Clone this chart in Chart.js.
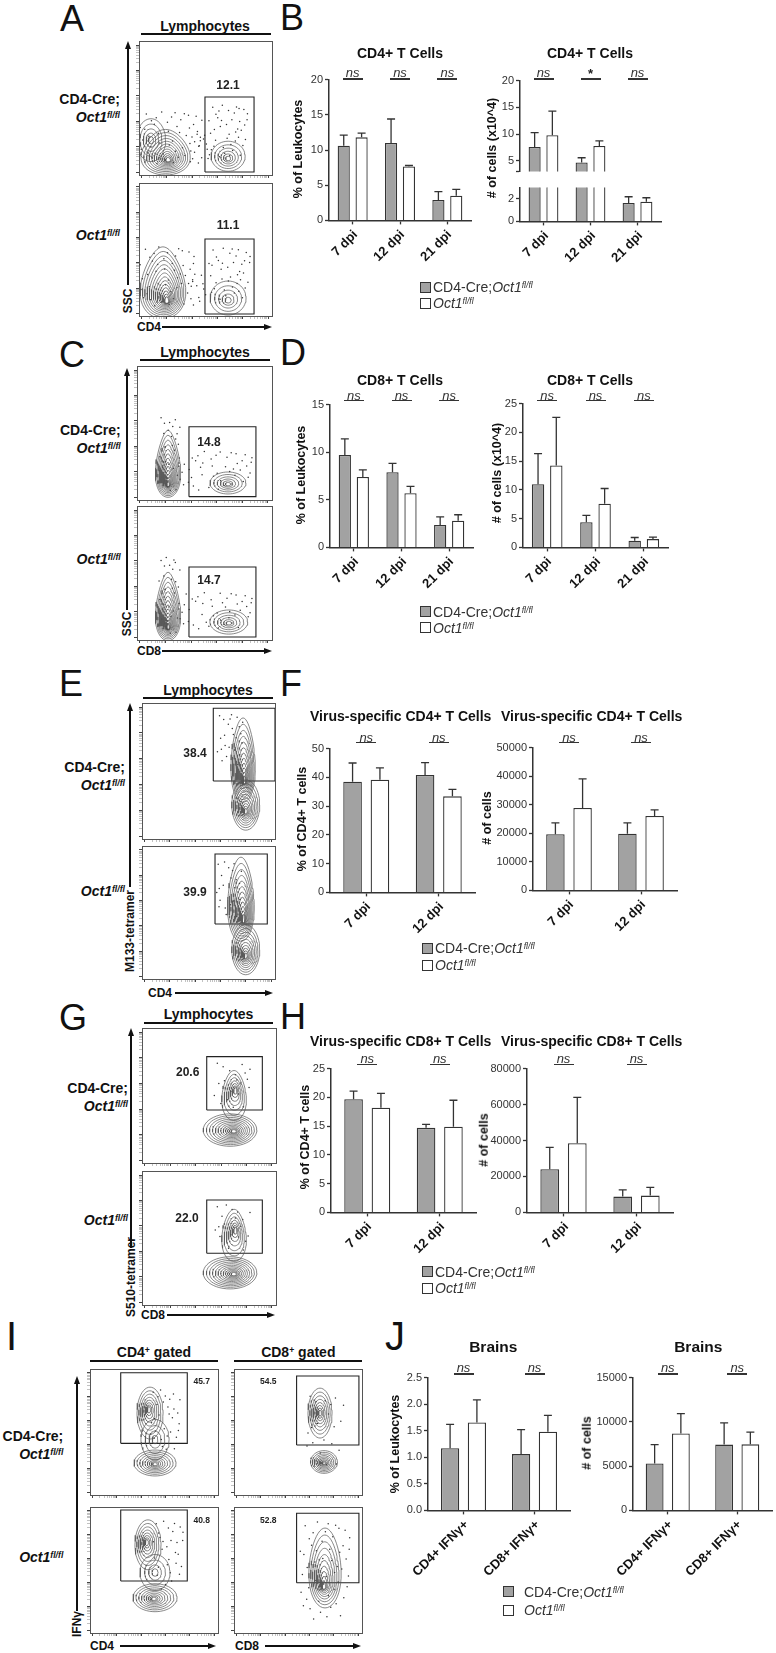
<!DOCTYPE html>
<html><head><meta charset="utf-8"><title>Oct1 T cell figure</title>
<script src="https://cdn.jsdelivr.net/npm/chart.js@4.4.1/dist/chart.umd.min.js"></script>
<style>
html,body{margin:0;padding:0;background:#fff;}
#fig{position:relative;width:776px;height:1653px;overflow:hidden;font-family:"Liberation Sans",Arial,Helvetica,sans-serif;color:#111;background:#fff;}
#fig canvas{position:absolute;}
#fig .t{position:absolute;white-space:nowrap;line-height:1;}
#fig sup{font-size:0.62em;line-height:0;vertical-align:0.5em;}
</style></head><body><div id="fig"></div>
<script>
// ================= DATA =================
const seriesNames = ['CD4-Cre;Oct1fl/fl', 'Oct1fl/fl'];
const dpi3 = ['7 dpi', '12 dpi', '21 dpi'];
const dpi2 = ['7 dpi', '12 dpi'];
const brainCats = ['CD4+ IFNγ+', 'CD8+ IFNγ+'];

const bPctKO = [10.6, 11.0, 2.9];   const bPctKOErr = [1.5, 3.4, 1.2];
const bPctWT = [11.8, 7.65, 3.5];   const bPctWTErr = [0.6, 0.15, 0.9];
const bNumKO = [7.6, 4.7, 1.63];    const bNumKOErr = [2.7, 0.9, 0.56];
const bNumWT = [9.8, 7.8, 1.75];    const bNumWTErr = [4.5, 0.95, 0.35];
const bPctSig = ['ns', 'ns', 'ns']; const bNumSig = ['ns', '*', 'ns'];
const bPctTicks = [0, 5, 10, 15, 20];
const bNumTicksUpper = [5, 10, 15, 20];
const bNumTicksLower = [0, 1, 2, 3];

const dPctKO = [9.7, 7.9, 2.35];    const dPctKOErr = [1.7, 0.93, 0.85];
const dPctWT = [7.4, 5.7, 2.8];     const dPctWTErr = [0.74, 0.7, 0.63];
const dNumKO = [11.0, 4.38, 1.15];  const dNumKOErr = [5.3, 1.2, 0.57];
const dNumWT = [14.26, 7.6, 1.44];  const dNumWTErr = [8.34, 2.64, 0.35];
const dPctSig = ['ns', 'ns', 'ns']; const dNumSig = ['ns', 'ns', 'ns'];
const dPctTicks = [0, 5, 10, 15];
const dNumTicks = [0, 5, 10, 15, 20, 25];

const fPctKO = [38.5, 40.8];        const fPctKOErr = [6.5, 4.3];
const fPctWT = [39.2, 33.4];        const fPctWTErr = [4.1, 2.4];
const fNumKO = [19650, 19860];      const fNumKOErr = [4020, 3810];
const fNumWT = [28860, 26090];      const fNumWTErr = [10190, 2080];
const fPctSig = ['ns', 'ns'];       const fNumSig = ['ns', 'ns'];
const fPctTicks = [0, 10, 20, 30, 40, 50];
const fNumTicks = [0, 10000, 20000, 30000, 40000, 50000];

const hPctKO = [19.66, 14.7];       const hPctKOErr = [1.44, 0.6];
const hPctWT = [18.2, 14.9];        const hPctWTErr = [2.5, 4.6];
const hNumKO = [24040, 8800];       const hNumKOErr = [12110, 3690];
const hNumWT = [38500, 9350];       const hNumWTErr = [25540, 4620];
const hPctSig = ['ns', 'ns'];       const hNumSig = ['ns', 'ns'];
const hPctTicks = [0, 5, 10, 15, 20, 25];
const hNumTicks = [0, 20000, 40000, 60000, 80000];

const jPctKO = [1.17, 1.06];        const jPctKOErr = [0.45, 0.46];
const jPctWT = [1.655, 1.48];       const jPctWTErr = [0.425, 0.31];
const jNumKO = [5300, 7430];        const jNumKOErr = [2130, 2460];
const jNumWT = [8690, 7460];        const jNumWTErr = [2240, 1380];
const jPctSig = ['ns', 'ns'];       const jNumSig = ['ns', 'ns'];
const jPctTicks = [0, 0.5, 1.0, 1.5, 2.0, 2.5];
const jNumTicks = [0, 5000, 10000, 15000];

const gateA = ['12.1', '11.1'];
const gateC = ['14.8', '14.7'];
const gateE = ['38.4', '39.9'];
const gateG = ['20.6', '22.0'];
const gateI = ['45.7', '54.5', '40.8', '52.8'];

// [cx, cy, rx, ry, levels, coreDx, coreDy, taper]
const popA1 = [[20, 17, 18, 17, 12, 2, -6, 0.25], [9, 26, 11, 16, 5, 0, 0, 0], [67, 14, 12.8, 11.2, 6, 0, -2, 0]];
const popA2 = [[18, 25, 16.5, 27, 14, 3, -14, 0.3], [67, 13.5, 13.5, 12.8, 5, 0, -2, 0]];
const popC1 = [[23, 27, 8.9, 25, 13, 0, -16, 0.35], [67.4, 12.7, 13.3, 8.2, 6, 0, -1, 0]];
const popC2 = [[23, 25, 8.9, 25.5, 13, 0, -16, 0.35], [68, 13.4, 14, 9, 6, 0, -1, 0]];
const popE1 = [[78, 25, 10.5, 18.5, 10, 0, -5, 0], [76, 58, 9, 31, 12, 1, -16, 0.2]];
const popE2 = [[78, 22, 10.5, 18.8, 10, 0, -5, 0], [74.4, 60, 9.8, 31.6, 12, 2, -16, 0.2]];
const popG1 = [[65.7, 24.4, 20, 12, 12, 3, -1, 0], [68.7, 50, 9, 18.5, 7, 1, 4, 0.2]];
const popG2 = [[65.7, 24, 20, 12, 12, 3, -1, 0], [68.7, 52, 9, 19.4, 7, 1, 4, 0.2]];
const popI11 = [[46.9, 65, 10.2, 20.6, 8, -1, 3, 0], [50.8, 25.4, 16.4, 10.3, 9, 0, -1, 0], [50.8, 44, 11, 16, 4, 0, 0, 0]];
const popI12 = [[67.2, 65, 9.4, 19.8, 8, 0, 0, 0], [70.3, 26.2, 10.5, 9, 9, 0, -1, 0]];
const popI21 = [[45.3, 70, 10.2, 19.8, 8, -1, 2, 0], [50.8, 28, 17.2, 11.1, 9, -1, -1, 0], [50.8, 48, 11.7, 14.3, 4, 0, 0, 0]];
const popI22 = [[71.1, 51.6, 12.5, 31.7, 10, -1, -15, 0.15]];

// [cx, cy, spreadX, spreadY, count, startIndex]
const dotsA1 = [[24, 28, 24, 20, 45, 0], [67, 33, 15, 20, 40, 10], [46, 19, 8, 12, 15, 25]];
const dotsA2 = [[21, 30, 21, 23, 45, 5], [68, 32, 16, 20, 40, 15], [44, 20, 7, 12, 12, 30]];
const dotsC1 = [[24, 35, 8, 30, 30, 3], [58, 22, 28, 15, 45, 20]];
const dotsC2 = [[24, 33, 8, 30, 30, 8], [58, 22, 28, 14, 45, 27]];
const dotsE1 = [[66, 73, 10, 20, 25, 2]];
const dotsE2 = [[65, 67, 10, 22, 25, 12]];
const dotsG1 = [[67, 58, 14, 18, 20, 4]];
const dotsG2 = [[67, 57.5, 14, 18, 20, 14]];
const dotsI11 = [[58.6, 59.5, 12, 25, 30, 6]];
const dotsI12 = [[71, 52, 15, 30, 20, 9]];
const dotsI21 = [[61, 62, 12, 28, 30, 18]];
const dotsI22 = [[71, 50, 20, 40, 50, 22]];

const gatesAC = [[49.6, 2.2, 86.5, 58.2], [49.6, 1.5, 86.5, 57.9], [38.5, 2.5, 88.1, 54.7], [38.5, 2.2, 88.1, 54.5]];
const gatesEG = [[53.6, 42.6, 100, 96.1], [54.9, 41.4, 94.2, 94], [48.3, 39.3, 89.8, 78.8], [48.3, 38.6, 89.8, 78.4]];
const gatesI = [[24, 41, 76, 97], [48.9, 39.7, 97.6, 94.4], [24, 41.3, 76, 97.6], [48.9, 39.9, 97.6, 95]];

const SCATTER = [[-0.82,0.31],[0.44,-0.67],[0.13,0.92],[-0.35,-0.21],[0.71,0.48],[-0.58,-0.77],[0.92,-0.12],[-0.11,0.57],[0.27,0.19],[-0.93,-0.44],
[0.55,0.83],[-0.46,0.74],[0.08,-0.93],[0.83,0.22],[-0.69,0.05],[0.36,-0.38],[-0.24,-0.62],[0.61,-0.91],[-0.77,0.88],[0.19,0.41],
[-0.05,-0.28],[0.97,0.64],[-0.39,0.16],[0.48,0.07],[-0.63,-0.35],[0.02,0.76],[0.74,-0.55],[-0.88,-0.09],[0.31,0.66],[-0.17,-0.84],
[0.58,0.35],[-0.52,0.49],[0.87,-0.33],[-0.29,0.95],[0.14,-0.51],[-0.71,-0.58],[0.42,0.89],[-0.96,0.37],[0.66,0.02],[-0.08,0.23],
[0.23,-0.74],[-0.44,-0.97],[0.79,0.79],[-0.61,0.62],[0.05,-0.13],[0.52,-0.24],[-0.33,0.38],[0.95,0.41],[-0.84,-0.71],[0.38,-0.05]];

const flowMajor = [2, 21, 40, 59, 78, 97];
const logSteps = [0.301, 0.477, 0.602, 0.699, 0.778, 0.845, 0.903, 0.954];

// ================= RENDER =================
const FONT = '"Liberation Sans", Arial, Helvetica, sans-serif';
Chart.defaults.font.family = FONT;
const fig = document.getElementById('fig');

function el(tag, css, html) {
  const e = document.createElement(tag);
  e.style.cssText = css;
  if (html !== undefined) e.innerHTML = html;
  fig.appendChild(e);
  return e;
}
function text(html, x, y, o = {}) {
  const a = o.anchor || 'c';
  const tx = a === 'l' ? '0' : a === 'r' ? '-100%' : '-50%';
  const rot = o.rot ? ` rotate(${o.rot}deg)` : '';
  const origin = a === 'r' ? '100% 50%' : a === 'l' ? '0 50%' : '50% 50%';
  const e = el('div', `left:${x}px;top:${y}px;font-size:${o.size || 14}px;font-weight:${o.bold ? 'bold' : 'normal'};font-style:${o.italic ? 'italic' : 'normal'};color:${o.color || '#111'};transform-origin:${origin};transform:translate(${tx},-50%)${rot};`, html);
  e.className = 't';
  return e;
}
function hline(x1, x2, y, w = 1.5, c = '#111') { el('div', `position:absolute;left:${x1}px;top:${y - w / 2}px;width:${x2 - x1}px;height:${w}px;background:${c}`); }
function vline(x, y1, y2, w = 1.5, c = '#111') { el('div', `position:absolute;left:${x - w / 2}px;top:${y1}px;width:${w}px;height:${y2 - y1}px;background:${c}`); }
function upArrow(x, yTip, yEnd) {
  vline(x, yTip + 6, yEnd, 2);
  el('div', `position:absolute;left:${x - 3.5}px;top:${yTip}px;width:0;height:0;border-left:3.5px solid transparent;border-right:3.5px solid transparent;border-bottom:8px solid #111`);
}
function rightArrow(x1, xTip, y) {
  hline(x1, xTip - 6, y, 2);
  el('div', `position:absolute;left:${xTip - 8}px;top:${y - 3.5}px;width:0;height:0;border-top:3.5px solid transparent;border-bottom:3.5px solid transparent;border-left:8px solid #111`);
}
function mkCanvas(left, top, w, h) {
  const c = document.createElement('canvas');
  c.width = w; c.height = h;
  c.style.left = left + 'px'; c.style.top = top + 'px';
  c.style.width = w + 'px'; c.style.height = h + 'px';
  fig.appendChild(c);
  return c;
}

const errPlugin = {
  id: 'errbars',
  afterDatasetsDraw(chart) {
    const { ctx, chartArea: a } = chart;
    const y = chart.scales.y;
    ctx.save();
    ctx.beginPath(); ctx.rect(a.left, a.top - 1, a.right - a.left, a.bottom - a.top + 1); ctx.clip();
    ctx.strokeStyle = '#333'; ctx.lineWidth = 1.3;
    chart.data.datasets.forEach((ds, di) => {
      if (!ds.errors) return;
      chart.getDatasetMeta(di).data.forEach((bar, i) => {
        const yt = y.getPixelForValue(ds.data[i] + ds.errors[i]);
        ctx.beginPath();
        ctx.moveTo(bar.x, bar.y); ctx.lineTo(bar.x, yt);
        ctx.moveTo(bar.x - 4, yt); ctx.lineTo(bar.x + 4, yt);
        ctx.stroke();
      });
    });
    ctx.restore();
  }
};

function barChart(cfg) {
  const L = 52, T = 8, R = 6;
  const showX = cfg.showX !== false;
  const B = showX ? 8 : 2;
  const [x0, x1, y0, y1] = cfg.rect;
  const left = Math.round(x0), top = Math.round(y0);
  const W = Math.round(x1 - x0) + L + R, H = Math.round(y1 - y0) + T + B;
  const cv = mkCanvas(left - L, top - T, W, H);
  const fmt = cfg.fmt || (v => String(v));
  const tickVals = cfg.ticks.concat(cfg.extraTicks || []);
  const chart = new Chart(cv, {
    type: 'bar',
    data: {
      labels: cfg.cats,
      datasets: [
        { label: seriesNames[0], data: cfg.ko, errors: cfg.koErr, backgroundColor: '#a2a2a2', borderColor: '#333', borderWidth: 1.3, categoryPercentage: 0.755, barPercentage: 0.68 },
        { label: seriesNames[1], data: cfg.wt, errors: cfg.wtErr, backgroundColor: '#ffffff', borderColor: '#333', borderWidth: 1.3, categoryPercentage: 0.755, barPercentage: 0.68 }
      ]
    },
    options: {
      responsive: false, animation: false, events: [], devicePixelRatio: 1,
      layout: { padding: { top: T, right: R, left: 0, bottom: 0 } },
      plugins: { legend: { display: false }, tooltip: { enabled: false } },
      scales: {
        x: {
          display: true,
          grid: { display: showX, offset: false, drawOnChartArea: false, tickLength: 4, tickColor: '#333', tickWidth: 1.3 },
          border: { display: showX, color: '#333', width: 1.5 },
          ticks: { display: false },
          afterFit(s) { s.height = B; s.paddingLeft = 0; s.paddingRight = 0; }
        },
        y: {
          min: cfg.min, max: cfg.max,
          grid: { drawOnChartArea: false, tickLength: 4, tickColor: '#333', tickWidth: 1.3 },
          border: { color: '#333', width: 1.5 },
          ticks: { color: '#333', padding: 2, font: { size: 11 }, callback: v => (cfg.ticks.includes(v) ? fmt(v) : '') },
          afterBuildTicks(s) { s.ticks = tickVals.map(v => ({ value: v })); },
          afterFit(s) { s.width = L; }
        }
      }
    },
    plugins: [errPlugin]
  });
  if (showX) {
    const cl = parseFloat(cv.style.left), ct = parseFloat(cv.style.top);
    const axisY = chart.chartArea.bottom + ct;
    cfg.cats.forEach((c, i) => {
      const px = chart.scales.x.getPixelForValue(i) + cl;
      text(c, px + 2, axisY + 12, { anchor: 'r', bold: true, size: 13, rot: -45 });
    });
  }
  return chart;
}

function sigMarks(chart, sigs, textY, lineY) {
  sigs.forEach((s, i) => {
    const px = chart.scales.x.getPixelForValue(i) + parseFloat(chart.canvas.style.left);
    if (s === '*') text('*', px, textY + 1, { size: 13, bold: true, color: '#222' });
    else text(s, px, textY, { size: 13, italic: true, color: '#333' });
    hline(px - 10, px + 10, lineY, 1.5, '#333');
  });
}

function legend(x, yA, yB, tx) {
  const rows = [[yA, '#a2a2a2', 'CD4-Cre;<i>Oct1<sup>fl/fl</sup></i>'], [yB, '#fff', '<i>Oct1<sup>fl/fl</sup></i>']];
  rows.forEach(([yc, fill, label]) => {
    el('div', `position:absolute;left:${x}px;top:${yc - 5.5}px;width:9px;height:9px;background:${fill};border:1.3px solid #333;`);
    text(label, tx, yc, { anchor: 'l', size: 14, color: '#333' });
  });
}

function flowTicks() {
  const out = [];
  flowMajor.forEach((m, k) => {
    out.push({ value: m, minor: false });
    if (k < flowMajor.length - 1) {
      const span = flowMajor[k + 1] - m;
      logSteps.forEach(s => out.push({ value: m + s * span, minor: true }));
    }
  });
  return out;
}
function contourSets(p) {
  const [cx, cy, rx, ry, n, dx, dy, tp] = p;
  const sets = [];
  for (let k = 0; k < n; k++) {
    const f = k / n;
    const s = Math.pow(1 - f, 1.4) * 0.93 + 0.07;
    const ccx = cx + dx * f, ccy = cy + dy * f;
    const pts = [];
    for (let j = 0; j <= 48; j++) {
      const t = j / 48 * 2 * Math.PI;
      const sn = Math.sin(t);
      pts.push({ x: ccx + rx * s * Math.cos(t) * (1 - tp * sn), y: ccy + ry * s * sn });
    }
    sets.push({ data: pts, showLine: true, borderColor: '#555', borderWidth: 0.7, pointRadius: 0, tension: 0, clip: 0 });
  }
  return sets;
}
function dotPts(c) {
  const [cx, cy, sx, sy, count, start] = c;
  const pts = [];
  for (let i = 0; i < count; i++) {
    const p = SCATTER[(start + i) % SCATTER.length];
    pts.push({ x: cx + p[0] * sx, y: cy + p[1] * sy });
  }
  return pts;
}
function flowChart(box, pops, dots, gate) {
  const [x0, y0, x1, y1] = box, M = 6;
  const cv = mkCanvas(x0 - M, y0 - M, x1 - x0 + 2 * M, y1 - y0 + 2 * M);
  const datasets = [];
  pops.forEach(p => datasets.push(...contourSets(p)));
  dots.forEach(c => datasets.push({ data: dotPts(c), pointRadius: 0.75, backgroundColor: '#333', borderWidth: 0, showLine: false, clip: 0 }));
  const [gx0, gy0, gx1, gy1] = gate;
  datasets.push({ data: [{ x: gx0, y: gy0 }, { x: gx1, y: gy0 }, { x: gx1, y: gy1 }, { x: gx0, y: gy1 }, { x: gx0, y: gy0 }], showLine: true, borderColor: '#222', borderWidth: 1.1, pointRadius: 0, tension: 0, clip: 0 });
  const tickGrid = { drawOnChartArea: false, tickLength: 3, tickColor: c => (c.tick && c.tick.minor ? '#999' : '#444'), tickWidth: c => (c.tick && c.tick.minor ? 0.6 : 1) };
  const frame = { color: '#555', width: 1 };
  return new Chart(cv, {
    type: 'scatter',
    data: { datasets },
    options: {
      responsive: false, animation: false, events: [], devicePixelRatio: 1,
      layout: { padding: 0 },
      plugins: { legend: { display: false }, tooltip: { enabled: false } },
      scales: {
        x: { type: 'linear', position: 'bottom', min: 0, max: 100, ticks: { display: false }, grid: tickGrid, border: frame, afterBuildTicks: s => { s.ticks = flowTicks(); }, afterFit: s => { s.height = M; } },
        y: { type: 'linear', position: 'left', min: 0, max: 100, ticks: { display: false }, grid: tickGrid, border: frame, afterBuildTicks: s => { s.ticks = flowTicks(); }, afterFit: s => { s.width = M; } },
        x2: { type: 'linear', position: 'top', min: 0, max: 100, ticks: { display: false }, grid: { display: false }, border: frame, afterFit: s => { s.height = M; } },
        y2: { type: 'linear', position: 'right', min: 0, max: 100, ticks: { display: false }, grid: { display: false }, border: frame, afterFit: s => { s.width = M; } }
      }
    }
  });
}

// ================= LAYOUT =================
[['A', 60, 19, 36], ['B', 280, 18, 36], ['C', 59, 355, 36], ['D', 280, 353, 36], ['E', 59, 684, 36], ['F', 280, 684, 36],
 ['G', 59, 1018, 36], ['H', 280, 1017, 36], ['I', 6, 1336, 40], ['J', 385, 1336, 40]].forEach(([s, x, y, sz]) => text(s, x, y, { anchor: 'l', size: sz }));

text('Lymphocytes', 205, 26, { bold: true }); hline(141, 271, 34.3, 2);
text('Lymphocytes', 205, 352, { bold: true }); hline(140, 270, 360, 2);
text('Lymphocytes', 208, 690, { bold: true }); hline(143, 273, 698.3, 2);
text('Lymphocytes', 208.5, 1014, { bold: true }); hline(144, 273, 1022.7, 2);
text('CD4<sup>+</sup> gated', 154, 1351.7, { bold: true }); hline(90, 218, 1361, 2);
text('CD8<sup>+</sup> gated', 298.3, 1351.7, { bold: true }); hline(234, 362, 1361, 2);

[[120, 99, 117, 235], [120.7, 430, 448, 559], [125, 766.5, 784.5, 891], [128, 1088, 1106, 1220], [63.3, 1436, 1454, 1557]].forEach(([xr, a, b, c]) => {
  text('CD4-Cre;', xr, a, { anchor: 'r', bold: true });
  text('<i>Oct1<sup>fl/fl</sup></i>', xr, b, { anchor: 'r', bold: true });
  text('<i>Oct1<sup>fl/fl</sup></i>', xr, c, { anchor: 'r', bold: true });
});

[[128, 41, 285, 'SSC', 301], [127, 368, 610, 'SSC', 624], [130, 703, 887, 'M133-tetramer', 931],
 [131, 1028, 1248, 'S510-tetramer', 1277], [77.3, 1376, 1611, 'IFNγ', 1624]].forEach(([x, tip, end, lab, cy]) => {
  upArrow(x, tip, end);
  text(lab, x, cy, { bold: true, size: 12, rot: -90 });
});
[['CD4', 137, 327, 162, 272], ['CD8', 137, 651, 162, 272], ['CD4', 148, 993, 175, 273], ['CD8', 141, 1315, 167, 275],
 ['CD4', 90, 1646, 120, 216], ['CD8', 235, 1646, 265, 361]].forEach(([lab, xl, y, a, b]) => {
  text(lab, xl, y, { anchor: 'l', bold: true, size: 12 });
  rightArrow(a, b, y);
});

const flowBoxes = [[139, 41, 272, 175], [139, 183, 272, 316], [137, 366, 272, 500], [137, 506, 272, 640],
  [142, 703, 275, 839], [142, 846, 275, 979], [142, 1028, 276, 1163], [142, 1171, 276, 1305],
  [90, 1369, 218, 1495], [234, 1369, 362, 1495], [90, 1507, 218, 1633], [234, 1507, 362, 1633]];
const flowPops = [popA1, popA2, popC1, popC2, popE1, popE2, popG1, popG2, popI11, popI12, popI21, popI22];
const flowDots = [dotsA1, dotsA2, dotsC1, dotsC2, dotsE1, dotsE2, dotsG1, dotsG2, dotsI11, dotsI12, dotsI21, dotsI22];
const flowGates = gatesAC.concat(gatesEG, gatesI);
flowBoxes.forEach((b, i) => flowChart(b, flowPops[i], flowDots[i], flowGates[i]));

const gateLabels = gateA.concat(gateC, gateE, gateG);
const gateLabelPos = [[228, 85], [228, 225], [209, 441.7], [209, 580], [195, 752.7], [195, 891.7], [187.7, 1071.7], [187, 1218.3]];
gateLabels.forEach((s, i) => text(s, gateLabelPos[i][0], gateLabelPos[i][1], { bold: true, size: 12, color: '#222' }));
const gateIPos = [[201.7, 1381], [268.3, 1381], [201.7, 1520], [268.3, 1520]];
gateI.forEach((s, i) => text(s, gateIPos[i][0], gateIPos[i][1], { bold: true, size: 8.5, color: '#222' }));

const cB1 = barChart({ rect: [328.5, 470.3, 79, 221], cats: dpi3, ko: bPctKO, koErr: bPctKOErr, wt: bPctWT, wtErr: bPctWTErr, min: 0, max: 20, ticks: bPctTicks });
const cB2u = barChart({ rect: [519.5, 660.6, 80, 178.3], cats: dpi3, ko: bNumKO, koErr: bNumKOErr, wt: bNumWT, wtErr: bNumWTErr, min: 3.05, max: 20, ticks: bNumTicksUpper, extraTicks: [3.05], showX: false });
const cB2l = barChart({ rect: [519.5, 660.6, 186.7, 221.5], cats: dpi3, ko: bNumKO, koErr: bNumKOErr, wt: bNumWT, wtErr: bNumWTErr, min: 0, max: 3, ticks: bNumTicksLower });
const cD1 = barChart({ rect: [330.4, 473.3, 404, 548.3], cats: dpi3, ko: dPctKO, koErr: dPctKOErr, wt: dPctWT, wtErr: dPctWTErr, min: 0, max: 15, ticks: dPctTicks });
const cD2 = barChart({ rect: [522.7, 667.3, 402.7, 547.7], cats: dpi3, ko: dNumKO, koErr: dNumKOErr, wt: dNumWT, wtErr: dNumWTErr, min: 0, max: 25, ticks: dNumTicks });
const cF1 = barChart({ rect: [330, 475.3, 747.7, 892.7], cats: dpi2, ko: fPctKO, koErr: fPctKOErr, wt: fPctWT, wtErr: fPctWTErr, min: 0, max: 50, ticks: fPctTicks });
const cF2 = barChart({ rect: [532.6, 677, 746.7, 891], cats: dpi2, ko: fNumKO, koErr: fNumKOErr, wt: fNumWT, wtErr: fNumWTErr, min: 0, max: 50000, ticks: fNumTicks });
const cH1 = barChart({ rect: [330.9, 476, 1068.3, 1213.3], cats: dpi2, ko: hPctKO, koErr: hPctKOErr, wt: hPctWT, wtErr: hPctWTErr, min: 0, max: 25, ticks: hPctTicks });
const cH2 = barChart({ rect: [527.4, 673, 1068.3, 1213.7], cats: dpi2, ko: hNumKO, koErr: hNumKOErr, wt: hNumWT, wtErr: hNumWTErr, min: 0, max: 80000, ticks: hNumTicks });
const cJ1 = barChart({ rect: [428.4, 570, 1376.7, 1510.7], cats: brainCats, ko: jPctKO, koErr: jPctKOErr, wt: jPctWT, wtErr: jPctWTErr, min: 0, max: 2.5, ticks: jPctTicks, fmt: v => v.toFixed(1) });
const cJ2 = barChart({ rect: [632.8, 772, 1376.7, 1510.7], cats: brainCats, ko: jNumKO, koErr: jNumKOErr, wt: jNumWT, wtErr: jNumWTErr, min: 0, max: 15000, ticks: jNumTicks });

sigMarks(cB1, bPctSig, 72, 79);
sigMarks(cB2u, bNumSig, 72, 79);
sigMarks(cD1, dPctSig, 395, 400.5);
sigMarks(cD2, dNumSig, 395, 400.5);
sigMarks(cF1, fPctSig, 737.3, 742.7);
sigMarks(cF2, fNumSig, 737.3, 742.7);
sigMarks(cH1, hPctSig, 1058.3, 1064.3);
sigMarks(cH2, hNumSig, 1058.3, 1064.3);
sigMarks(cJ1, jPctSig, 1366.7, 1374);
sigMarks(cJ2, jNumSig, 1366.7, 1374);

[['CD4+ T Cells', 400, 53], ['CD4+ T Cells', 590, 53], ['CD8+ T Cells', 400, 380], ['CD8+ T Cells', 590, 380],
 ['Virus-specific CD4+ T Cells', 400.7, 715.7], ['Virus-specific CD4+ T Cells', 591.7, 715.7],
 ['Virus-specific CD8+ T Cells', 400.7, 1040.7], ['Virus-specific CD8+ T Cells', 591.7, 1040.7]].forEach(([s, x, y]) => text(s, x, y, { bold: true, size: 14 }));
text('Brains', 493.3, 1346.7, { bold: true, size: 15.5 });
text('Brains', 698.3, 1346.7, { bold: true, size: 15.5 });

[['% of Leukocytes', 298, 149], ['# of cells (x10^4)', 491.7, 148], ['% of Leukocytes', 300.7, 475], ['# of cells (x10^4)', 496.7, 473.3],
 ['% of CD4+ T cells', 301.7, 819], ['# of cells', 486.7, 817.5], ['% of CD4+ T cells', 305, 1136.7], ['# of cells', 484, 1140],
 ['% of Leukocytes', 395, 1444], ['# of cells', 586.7, 1442.5]].forEach(([s, x, y]) => text(s, x, y, { bold: true, size: 12.5, rot: -90 }));

legend(420, 287, 303, 433);
legend(420, 611.7, 627.7, 433);
legend(421.7, 948.3, 965, 435);
legend(421.7, 1271.7, 1288.3, 435);
legend(503.3, 1591.7, 1610, 524);
</script></body></html>
